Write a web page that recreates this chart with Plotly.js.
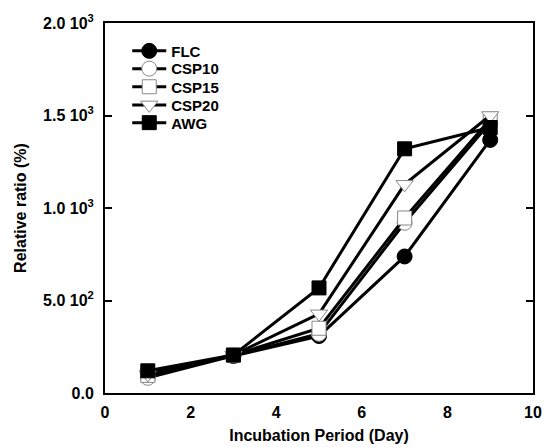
<!DOCTYPE html>
<html><head><meta charset="utf-8">
<script src="https://cdn.plot.ly/plotly-3.0.1.min.js"></script>
<style>html,body{margin:0;padding:0;background:#fff}#chart{width:544px;height:447px}</style>
</head><body><div id="chart"></div>
<script>
const days = [1, 3, 5, 7, 9];
const seriesNames = ["FLC", "CSP10", "CSP15", "CSP20", "AWG"];
const FLC   = [110, 200, 308, 738, 1368];
const CSP10 = [82, 203, 320, 920, 1462];
const CSP15 = [95, 205, 350, 946, 1480];
const CSP20 = [100, 205, 428, 1128, 1500];
const AWG   = [120, 205, 568, 1320, 1435];
const yTickVals = [0, 500, 1000, 1500, 2000];
const yTickText = ["0.0", "5.0 10<sup>2</sup>", "1.0 10<sup>3</sup>", "1.5 10<sup>3</sup>", "2.0 10<sup>3</sup>"];
const xTickVals = [0, 2, 4, 6, 8, 10];

const values = [FLC, CSP10, CSP15, CSP20, AWG];
const symbols = ["circle", "circle", "square", "triangle-down", "square"];
const fills = ["#000", "#fff", "#fff", "#fff", "#000"];
const outl = ["#000", "#888", "#888", "#888", "#000"];
const sizes = [15, 15, 14, 15, 14];
const legendRowY = [0.924, 0.876, 0.827, 0.778, 0.730];

const legendId = i => (i === 0 ? "legend" : "legend" + (i + 1));

const traces = values.map((v, i) => ({
  x: days, y: v, name: seriesNames[i], type: "scatter", mode: "lines+markers",
  legend: legendId(i),
  line: {color: "#000", width: 3},
  marker: {symbol: symbols[i], size: sizes[i], color: fills[i], line: {color: outl[i], width: 1}}
}));

const fam = "Liberation Sans, Arial, sans-serif";
const f16 = {family: fam, size: 16, color: "#000", weight: "bold"};
const layout = {
  width: 544, height: 447,
  margin: {l: 105, r: 11, t: 23, b: 54},
  paper_bgcolor: "#fff", plot_bgcolor: "#fff",
  font: f16,
  showlegend: true,
  xaxis: {range: [0, 10], tickvals: xTickVals, ticks: "", showgrid: false, zeroline: false,
          showline: true, linecolor: "#000", linewidth: 2, mirror: true,
          ticklabelstandoff: 4,
          tickfont: f16,
          title: {text: "Incubation Period (Day)", standoff: 10, font: f16}},
  yaxis: {range: [0, 2000], tickvals: yTickVals, ticktext: yTickText, ticks: "inside", ticklen: 7,
          tickwidth: 2, tickcolor: "#000", showgrid: false, zeroline: false,
          showline: true, linecolor: "#000", linewidth: 2, mirror: "ticks",
          ticklabelstandoff: 6,
          tickfont: f16,
          title: {text: "Relative ratio (%)", standoff: 12, font: f16}}
};
values.forEach((v, i) => {
  layout[legendId(i)] = {
    x: 0.052, y: legendRowY[i], xanchor: "left", yanchor: "middle", bgcolor: "rgba(0,0,0,0)",
    itemwidth: 34,
    font: {family: fam, size: 15, color: "#000", weight: "bold"}
  };
});
Plotly.newPlot("chart", traces, layout, {staticPlot: true});
</script></body></html>
